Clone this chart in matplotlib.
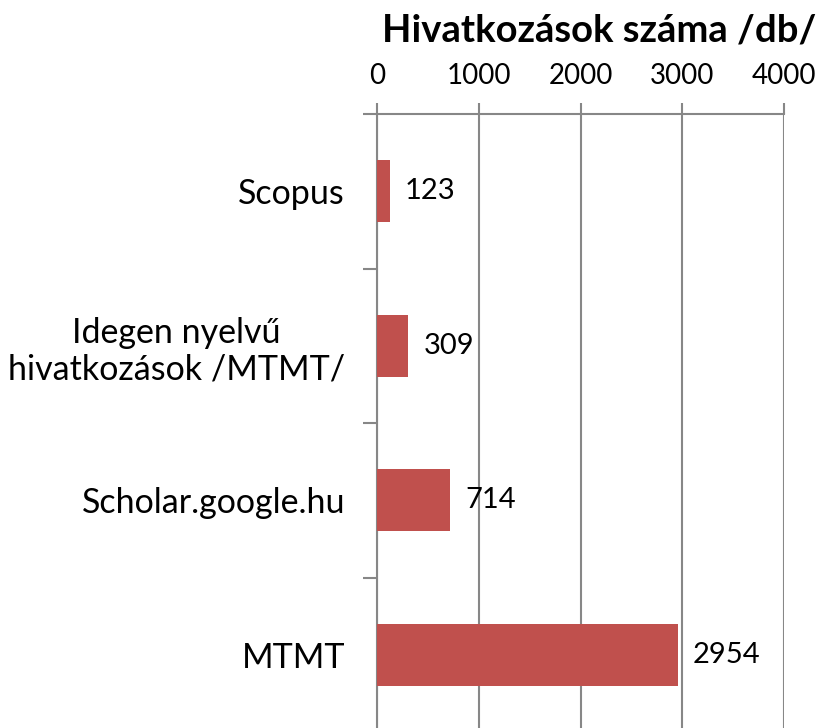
import matplotlib
matplotlib.use('Agg')
import matplotlib.pyplot as plt
import numpy as np

plt.rcParams['font.family'] = ['Lato', 'DejaVu Sans']

categories = ['Scopus', 'Idegen nyelvű\nhivatkozások /MTMT/', 'Scholar.google.hu', 'MTMT']
values = [123, 309, 714, 2954]
x_ticks = [0, 1000, 2000, 3000, 4000]
title = 'Hivatkozások száma /db/'

bar_color = '#C0504D'
grid_color = '#878787'

fig = plt.figure(figsize=(8.19, 7.28), dpi=100)
ax = fig.add_axes([377 / 819, 1 - 732 / 728, 407 / 819, 618 / 728])

pos = np.arange(len(categories))
ax.barh(pos, values, height=0.4, color=bar_color, zorder=3)
ax.set_ylim(len(categories) - 0.5, -0.5)
ax.set_xlim(0, 4000)

ax.xaxis.tick_top()
ax.set_xticks(x_ticks)
ax.set_xticklabels([str(t) for t in x_ticks], fontsize=20)
ax.tick_params(axis='x', length=8, width=1.5, color=grid_color, pad=10)

ax.set_yticks(pos)
ax.set_yticklabels(categories, fontsize=24.5, linespacing=1.2)
ax.set_yticks(np.arange(len(categories) + 1) - 0.5, minor=True)
ax.tick_params(axis='y', which='major', length=0, pad=23)
ax.tick_params(axis='y', which='minor', length=10, width=1.5, color=grid_color)
for lbl in ax.get_yticklabels():
    lbl.set_horizontalalignment('right')
    lbl.set_multialignment('center')

ax.grid(axis='x', color=grid_color, linewidth=1.5, zorder=0)
for side in ['right', 'bottom']:
    ax.spines[side].set_visible(False)
for side in ['left', 'top']:
    ax.spines[side].set_color(grid_color)
    ax.spines[side].set_linewidth(1.5)

for p, v in zip(pos, values):
    ax.annotate(str(v), (v, p), xytext=(11, 0), textcoords='offset points',
                va='center', ha='left', fontsize=21)

fig.text(599 / 819, 1 - 31 / 728, title, ha='center', va='center',
         fontsize=27.5, fontweight='bold')

fig.savefig('out.png', dpi=100)
